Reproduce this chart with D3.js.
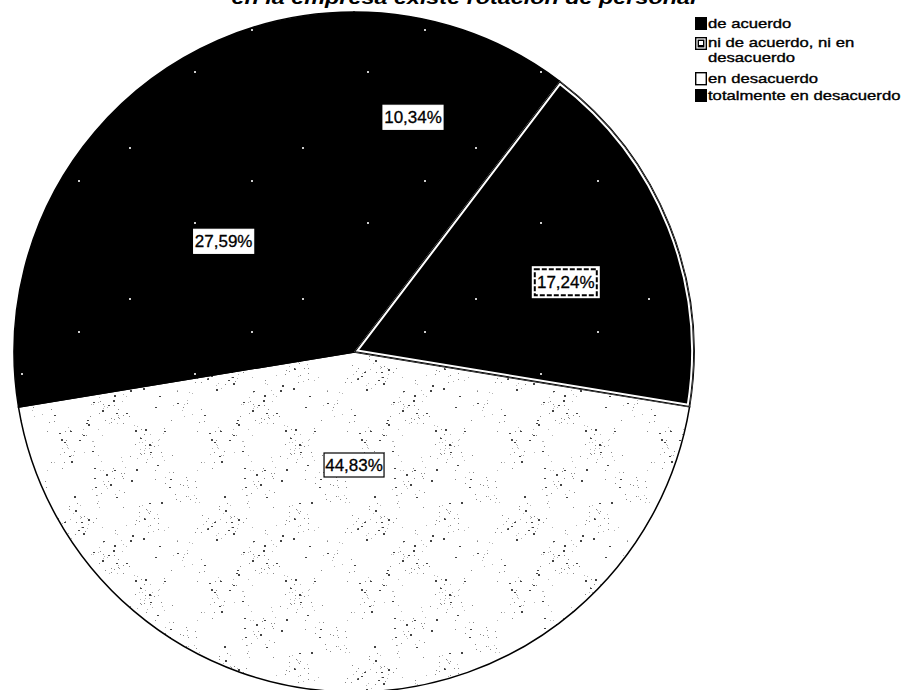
<!DOCTYPE html>
<html>
<head>
<meta charset="utf-8">
<script src="https://cdn.jsdelivr.net/npm/d3@7"></script>
<style>
  html, body { margin: 0; padding: 0; background: #fff; }
  svg { display: block; }
  text { font-family: "Liberation Sans", Arial, sans-serif; }
</style>
</head>
<body>
<svg id="chart" width="907" height="690"></svg>
<script>
// ---- data ----
const categories = ["de acuerdo", "ni de acuerdo, ni en desacuerdo", "en desacuerdo", "totalmente en desacuerdo"];
const values = [10.34, 17.24, 44.83, 27.59];
const valueLabels = ["10,34%", "17,24%", "44,83%", "27,59%"];
const legendLines = [["de acuerdo"], ["ni de acuerdo, ni en", "desacuerdo"], ["en desacuerdo"], ["totalmente en desacuerdo"]];
const titleText = "en la empresa existe rotación de personal";

// ---- layout ----
const cx = 354, cy = 352, R = 340;
// label placement (radius, angle offset in degrees) per slice
const labelLayout = [{r: 242, da: -4.5}, {r: 223, da: 3.5}, {r: 113, da: 0}, {r: 171, da: 0}];
const svg = d3.select("#chart");
const defs = svg.append("defs");

// speckle texture for the white slice (deterministic hash noise, clustered)
const T = 150;
const spk = defs.append("pattern").attr("id", "speckle").attr("patternUnits", "userSpaceOnUse")
  .attr("width", T).attr("height", T);
spk.append("rect").attr("width", T).attr("height", T).attr("fill", "#fff");
function hash(n) { const s = Math.sin(n * 12.9898) * 43758.5453; return s - Math.floor(s); }
const dots = [];
for (let i = 0; i < 1400; i++) {
  const x = hash(i + 0.1) * T, y = hash(i + 500.7) * T;
  const dens = 0.5 + 0.5 * Math.sin(x / T * 2 * Math.PI * 2) * Math.sin(y / T * 2 * Math.PI * 2);
  if (hash(i + 999.3) < dens * dens * 0.7) dots.push([Math.floor(x), Math.floor(y), hash(i + 33.3)]);
}
spk.selectAll("rect.d").data(dots).enter().append("rect").attr("class", "d")
  .attr("x", d => d[0]).attr("y", d => d[1])
  .attr("width", d => d[2] > 0.8 ? 2 : 1).attr("height", d => d[2] > 0.9 ? 2 : 1)
  .attr("fill", d => d[2] > 0.8 ? "#444" : (d[2] > 0.4 ? "#888" : "#b5b5b5"));

// sparse white dots for black slices
const bk = defs.append("pattern").attr("id", "blackdots").attr("patternUnits", "userSpaceOnUse")
  .attr("width", 173).attr("height", 151);
bk.append("rect").attr("width", 173).attr("height", 151).attr("fill", "#000");
[[13, 21], [121, 97], [70, 130]].forEach(p =>
  bk.append("rect").attr("x", p[0]).attr("y", p[1]).attr("width", 2).attr("height", 2).attr("fill", "#ccc"));

const fills = ["url(#blackdots)", "url(#blackdots)", "url(#speckle)", "url(#blackdots)"];

const pie = d3.pie().sort(null).value(d => d).startAngle(0).endAngle(2 * Math.PI);
const arcs = pie(values);
const arc = d3.arc().innerRadius(0).outerRadius(R);

const g = svg.append("g").attr("transform", `translate(${cx},${cy})`);

arcs.forEach((a, i) => {
  const path = arc(a);
  defs.append("clipPath").attr("id", "clip" + i).append("path").attr("d", path)
    .attr("transform", `translate(${cx},${cy})`);
  g.append("path").attr("d", path).attr("fill", fills[i]).attr("stroke", "#000").attr("stroke-width", 1.5);
});

// inner white border for the patterned slice (index 1)
{
  const path = arc(arcs[1]);
  const sg = svg.append("g").attr("clip-path", "url(#clip1)")
    .append("g").attr("transform", `translate(${cx},${cy})`);
  sg.append("path").attr("d", path).attr("fill", "none").attr("stroke", "#fff").attr("stroke-width", 6);
  sg.append("path").attr("d", path).attr("fill", "none").attr("stroke", "#000").attr("stroke-width", 2);
}

// value labels
arcs.forEach((a, i) => {
  const L = labelLayout[i];
  const ang = (a.startAngle + a.endAngle) / 2 + L.da * Math.PI / 180;
  const x = cx + L.r * Math.sin(ang), y = cy - L.r * Math.cos(ang);
  const lg = svg.append("g").attr("transform", `translate(${x},${y})`);
  const boxed = i === 1;
  const w = boxed ? 68 : 60, h = boxed ? 32 : 24;
  lg.append("rect").attr("x", -w / 2).attr("y", -h / 2).attr("width", w).attr("height", h)
    .attr("fill", "#fff").attr("stroke", boxed ? "none" : (i === 2 ? "#000" : "#fff")).attr("stroke-width", 1.2);
  if (boxed) {
    lg.append("rect").attr("x", -w / 2 + 3).attr("y", -h / 2 + 3).attr("width", w - 6).attr("height", h - 6)
      .attr("fill", "none").attr("stroke", "#000").attr("stroke-width", 2).attr("stroke-dasharray", "5,2");
  }
  lg.append("text").attr("text-anchor", "middle").attr("dy", "0.36em")
    .attr("font-size", 17).attr("fill", "#000").attr("stroke", "#000").attr("stroke-width", 0.3)
    .text(valueLabels[i]);
});

// title (cut at top)
svg.append("text").attr("x", 464).attr("y", 4).attr("text-anchor", "middle")
  .attr("font-size", 19).attr("font-weight", "bold").attr("font-style", "italic")
  .attr("textLength", 465).attr("lengthAdjust", "spacingAndGlyphs")
  .text(titleText);

// legend
const legRows = [23, 43, 78, 95];
const lg = svg.append("g");
categories.forEach((c, i) => {
  const y = legRows[i];
  const sx = 695, s = 12;
  if (i === 2) {
    lg.append("rect").attr("x", sx + 0.7).attr("y", y - s / 2 + 0.7).attr("width", s - 1.4).attr("height", s)
      .attr("fill", "#fff").attr("stroke", "#000").attr("stroke-width", 1.4);
  } else {
    lg.append("rect").attr("x", sx).attr("y", y - s / 2).attr("width", s).attr("height", s + 1).attr("fill", "#000");
    if (i === 1) {
      lg.append("rect").attr("x", sx + 2).attr("y", y - s / 2 + 2).attr("width", s - 4).attr("height", s - 3)
        .attr("fill", "none").attr("stroke", "#fff").attr("stroke-width", 1.2);
      lg.append("rect").attr("x", sx + 4).attr("y", y - s / 2 + 4).attr("width", 4).attr("height", 4).attr("fill", "#fff");
    }
  }
  legendLines[i].forEach((ln, k) => {
    const t = lg.append("text").attr("x", 708).attr("y", y + 5 + k * 15 - (legendLines[i].length > 1 ? 1 : 0))
      .attr("font-size", 13).attr("fill", "#000").attr("stroke", "#000").attr("stroke-width", 0.35)
      .text(ln);
    const L0 = t.node().getComputedTextLength();
    t.attr("textLength", L0 * 1.28).attr("lengthAdjust", "spacingAndGlyphs");
  });
});
</script>
</body>
</html>
